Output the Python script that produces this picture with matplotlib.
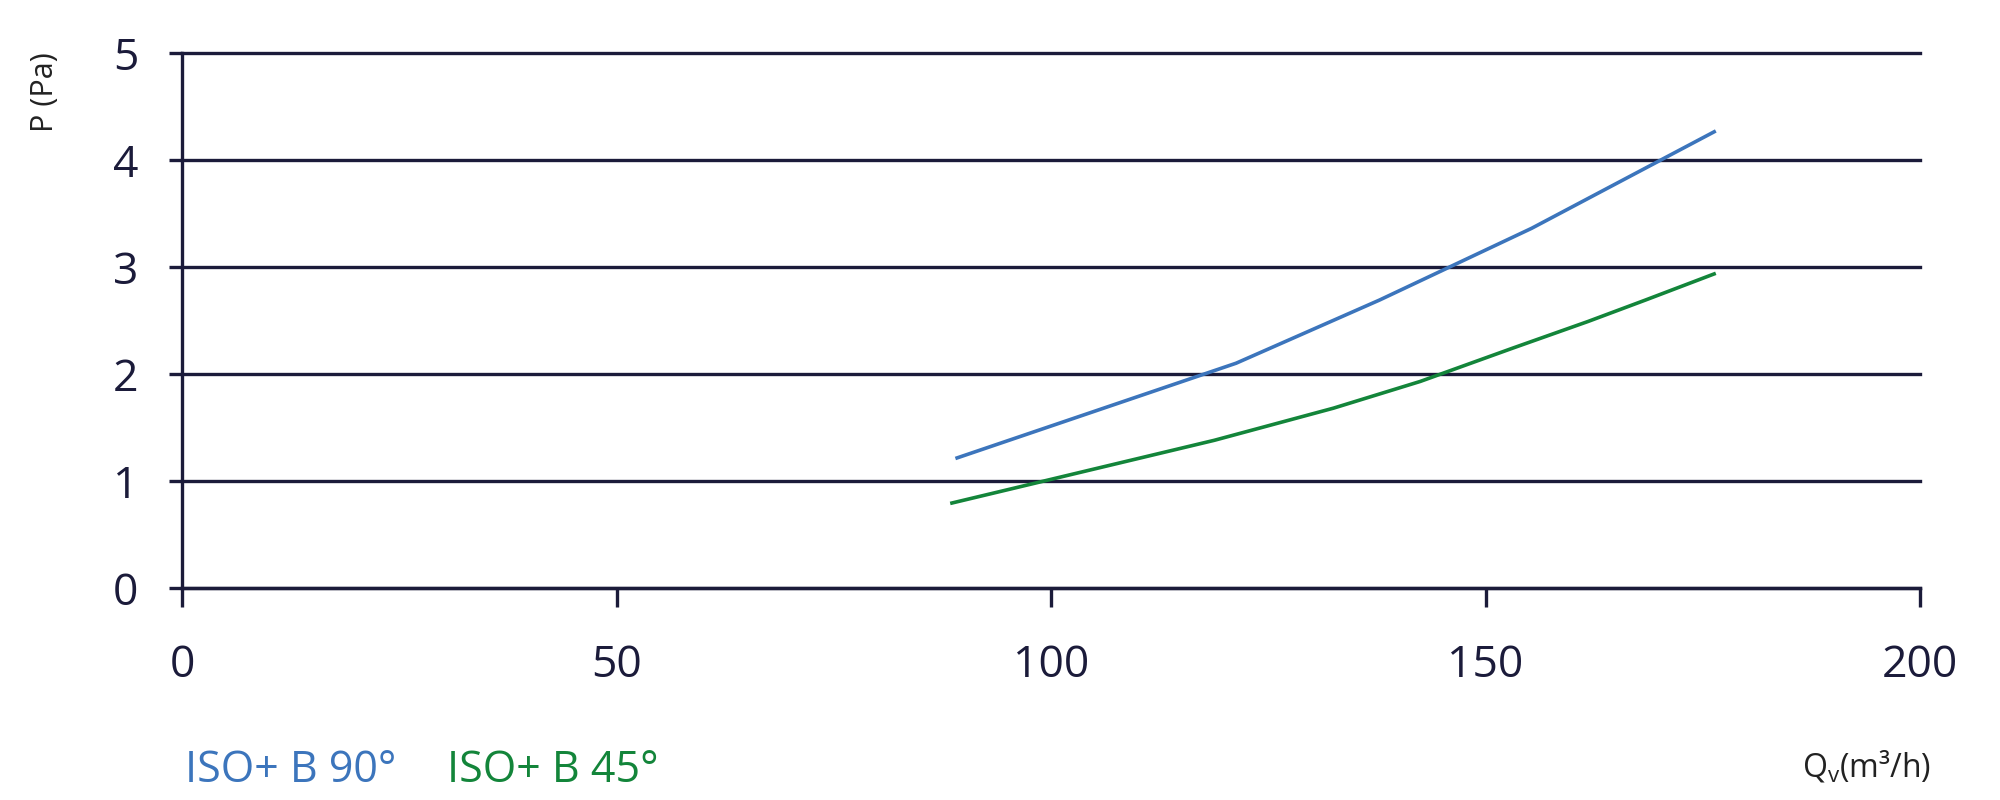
import matplotlib
matplotlib.use("Agg")
import matplotlib.pyplot as plt

plt.rcParams["font.family"] = ["Open Sans", "DejaVu Sans"]
plt.rcParams["mathtext.fontset"] = "custom"
plt.rcParams["mathtext.rm"] = "Open Sans"

# values
q_90 = [89.0, 121.3, 137.8, 155.3, 176.5]
p_90 = [1.21, 2.10, 2.69, 3.36, 4.27]

q_45 = [88.4, 118.8, 132.5, 142.5, 153.1, 161.8, 168.4, 176.5]
p_45 = [0.79, 1.38, 1.68, 1.93, 2.24, 2.49, 2.69, 2.94]

x_ticks = [0, 50, 100, 150, 200]
y_ticks = [0, 1, 2, 3, 4, 5]

axis_col = "#1b1b3a"
blue = "#3c75bc"
green = "#13853a"

fig = plt.figure(figsize=(20, 8), dpi=100)
ax = fig.add_axes([0.091, 0.265, 0.869, 0.669])

ax.plot(q_90, p_90, color=blue, lw=2.6, solid_capstyle="butt", zorder=3)
ax.plot(q_45, p_45, color=green, lw=2.6, solid_capstyle="butt", zorder=3)

ax.set_xlim(0, 200)
ax.set_ylim(0, 5)
ax.set_xticks(x_ticks)
ax.set_yticks(y_ticks)

ax.grid(axis="y", color=axis_col, lw=2.4)
ax.set_axisbelow(True)
for gl in ax.get_ygridlines():
    gl.set_clip_on(False)

for s in ["top", "right"]:
    ax.spines[s].set_visible(False)
for s in ["left", "bottom"]:
    ax.spines[s].set_color(axis_col)
    ax.spines[s].set_linewidth(2.4)

ax.tick_params(axis="y", direction="out", length=9.4, width=2.4, color=axis_col,
               labelcolor=axis_col, labelsize=32, pad=22)
ax.tick_params(axis="x", direction="out", length=13.7, width=2.4, color=axis_col,
               labelcolor=axis_col, labelsize=32, pad=26)

fig.text(0.0225, 0.885, "P (Pa)", rotation=90, fontsize=22, color="#222222",
         ha="center", va="center")
fig.text(0.9655, 1 - 777 / 800, r"Q$_\mathrm{v}$(m³/h)", fontsize=23, color="#222222",
         ha="right", va="baseline")

fig.text(185 / 2000, 1 - 782 / 800, "ISO+ B 90°", fontsize=31, color=blue,
         ha="left", va="baseline")
fig.text(447 / 2000, 1 - 782 / 800, "ISO+ B 45°", fontsize=31, color=green,
         ha="left", va="baseline")

fig.savefig("out.png", dpi=100)
